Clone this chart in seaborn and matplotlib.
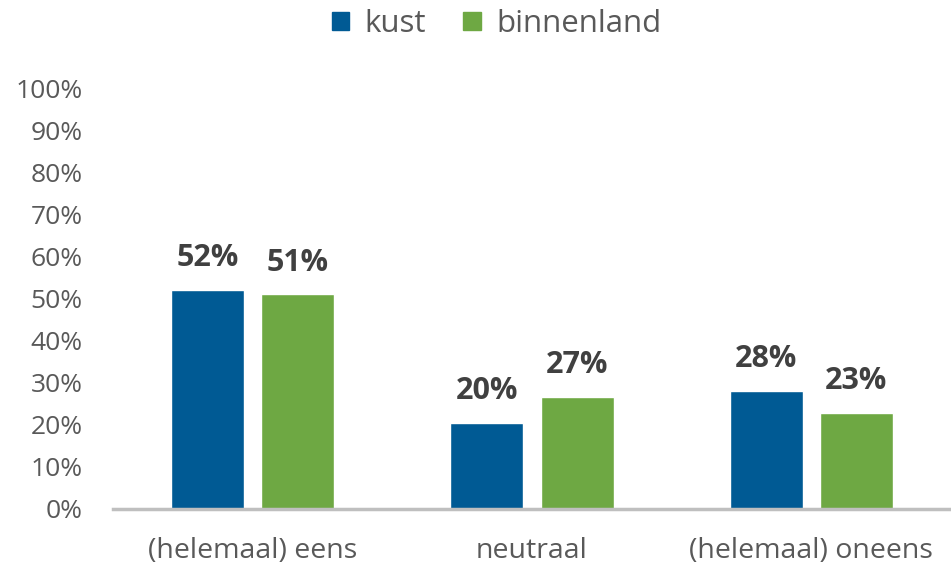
import pandas as pd
import matplotlib.pyplot as plt
import seaborn as sns
from matplotlib.ticker import PercentFormatter
from matplotlib.patches import Patch

# Data
categories = ["(helemaal) eens", "neutraal", "(helemaal) oneens"]
series = ["kust", "binnenland"]
kust = [0.52, 0.205, 0.28]
binnenland = [0.51, 0.266, 0.228]
labels_kust = ["52%", "20%", "28%"]
labels_binnenland = ["51%", "27%", "23%"]

colors = {"kust": "#005A94", "binnenland": "#6EA843"}

sns.set_theme(style="white")
plt.rcParams["font.family"] = ["Open Sans", "DejaVu Sans"]

df = pd.DataFrame({
    "categorie": categories * 2,
    "groep": ["kust"] * 3 + ["binnenland"] * 3,
    "waarde": kust + binnenland,
})

fig = plt.figure(figsize=(9.51, 5.64), dpi=100)
ax = fig.add_axes([113 / 951, 1 - 509 / 564, 1 - 113 / 951, (509 - 88) / 564])

sns.barplot(data=df, x="categorie", y="waarde", hue="groep", hue_order=series,
            palette=colors, width=0.645, gap=0.19, ax=ax, legend=False,
            saturation=1)

# value labels
for container, labs in zip(ax.containers, [labels_kust, labels_binnenland]):
    ax.bar_label(container, labels=labs, padding=12, fontsize=22,
                 fontweight="bold", color="#404040")

ax.set_ylim(0, 1)
ax.set_yticks([i / 10 for i in range(11)])
ax.yaxis.set_major_formatter(PercentFormatter(1.0, decimals=0))
ax.set_xlabel("")
ax.set_ylabel("")
ax.tick_params(axis="both", length=0, labelcolor="#595959")
ax.tick_params(axis="y", pad=22, labelsize=19)
ax.tick_params(axis="x", pad=20, labelsize=20.5)
for s in ["top", "right", "left"]:
    ax.spines[s].set_visible(False)
ax.spines["bottom"].set_color("#BFBFBF")
ax.spines["bottom"].set_linewidth(2.5)
ax.set_xlim(-0.5, 2.5)

handles = [Patch(color=colors[s], label=s) for s in series]
fig.legend(handles=handles, loc="center", bbox_to_anchor=(0.522, 1 - 24 / 564),
           ncol=2, frameon=False, fontsize=22.5, labelcolor="#595959",
           handlelength=0.55, handleheight=0.55, handletextpad=0.5,
           columnspacing=1.2)

fig.savefig("out.png", dpi=100)
